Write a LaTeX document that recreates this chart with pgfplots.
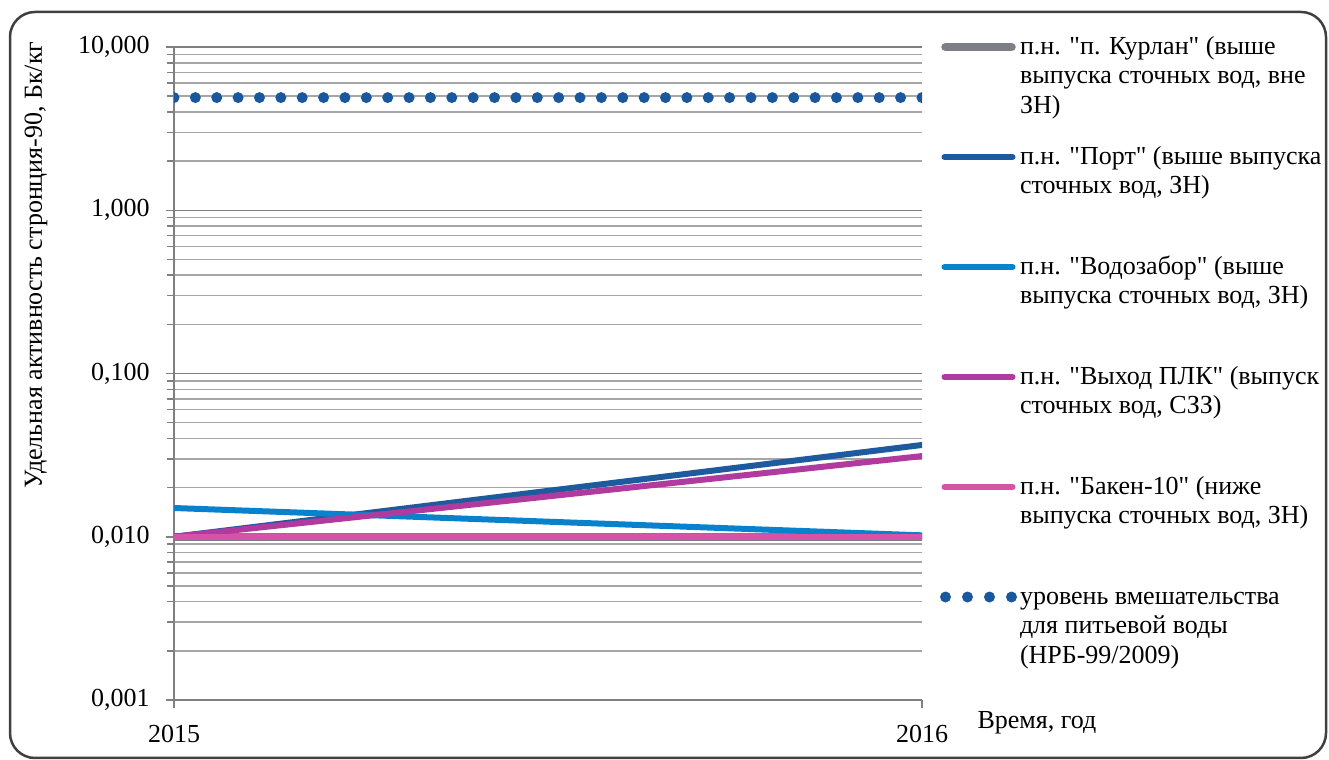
\documentclass[border=0pt]{standalone}
\usepackage{fontspec}
\setmainfont{Liberation Serif}[Ligatures=TeXOff]
\usepackage{pgfplots}
\pgfplotsset{compat=1.18}
\definecolor{ckurlan}{RGB}{124,127,133}
\definecolor{cport}{RGB}{30,90,158}
\definecolor{cvodo}{RGB}{8,130,204}
\definecolor{cplk}{RGB}{176,58,158}
\definecolor{cbaken}{RGB}{214,84,168}
\definecolor{clevel}{RGB}{26,88,158}
\definecolor{gmaj}{RGB}{128,128,128}
\definecolor{gmin}{RGB}{166,166,166}
\definecolor{cframe}{RGB}{64,64,64}
\newcommand{\lfont}{\fontsize{26bp}{29.6bp}\selectfont}
\newcommand{\lentry}[1]{\parbox[t]{330bp}{\raggedright #1}}
\pgfplotsset{
  legline/.style={legend image code/.code={\path[draw=none,fill=none] (0bp,20bp) -- (0bp,-90bp); \draw[##1] (3bp,7bp) -- (71bp,7bp);}},
  leglinegray/.style={legend image code/.code={\path[draw=none,fill=none] (0bp,20bp) -- (0bp,-90bp); \draw[##1] (4bp,7bp) -- (70bp,7bp);}},
  legdots/.style={legend image code/.code={\path[draw=none,fill=none] (0bp,20bp) -- (0bp,-90bp); \draw[##1, dash pattern=on 0bp off 22bp] (4bp,7bp) -- (70bp,7bp);}},
}
\begin{document}
\begin{tikzpicture}
\path[use as bounding box] (0,0) rectangle (1329bp,760bp);
\draw[cframe, line width=2.5bp, rounded corners=25bp] (10bp,2bp) rectangle (1326bp,748bp);
\begin{axis}[
  at={(174bp,60bp)}, anchor=south west,
  scale only axis, width=748bp, height=653bp,
  xmin=2015, xmax=2016, ymode=log, ymin=0.001, ymax=10,
  axis x line*=bottom, axis y line*=left,
  axis line style={draw=gmaj, line width=2bp},
  xtick={2015,2016}, xticklabels={2015,2016},
  ytick={0.001,0.01,0.1,1,10},
  yticklabels={{0,001},{0,010},{0,100},{1,000},{10,000}},
  tick align=outside,
  major tick length=8bp, minor tick length=7bp,
  tick style={draw=gmaj, line width=1.5bp},
  ymajorgrids, yminorgrids,
  major grid style={draw=gmaj, line width=1.5bp},
  minor grid style={draw=gmin, line width=1.5bp},
  ticklabel style={font=\lfont},
  yticklabel style={xshift=-13bp},
  xticklabel style={yshift=-14bp},
  label style={font=\lfont},
  ylabel={Удельная активность стронция-90, Бк/кг},
  ylabel style={at={(axis description cs:-0.1845,1.0138)}, anchor=east},
  xlabel={Время, год},
  xlabel style={at={(axis description cs:1.0695,-0.035)}, anchor=west},
  legend style={at={(1,1)}, anchor=north west, xshift=18bp, yshift=13bp,
    draw=none, fill=none, inner sep=0pt, outer sep=0pt, row sep=0pt, column sep=3bp,
    nodes={inner sep=0pt, outer sep=0pt, anchor=base west, font=\lfont},
    cells={anchor=base west}},
  legend cell align=left,
]
\addplot[ckurlan, line width=8.5bp, line cap=round, leglinegray]
  coordinates {(2015,0.01) (2016,0.01)};
\addlegendentry{\lentry{п.н. "п. Курлан" (выше\\выпуска сточных вод, вне\\ЗН)}}
\addplot[cport, line width=6bp, line cap=round, legline]
  coordinates {(2015,0.01) (2016,0.0365)};
\addlegendentry{\lentry{п.н. "Порт" (выше выпуска\\сточных вод, ЗН)}}
\addplot[cvodo, line width=6bp, line cap=round, legline]
  coordinates {(2015,0.0150) (2016,0.0102)};
\addlegendentry{\lentry{п.н. "Водозабор" (выше\\выпуска сточных вод, ЗН)}}
\addplot[cplk, line width=6bp, line cap=round, legline]
  coordinates {(2015,0.01) (2016,0.0312)};
\addlegendentry{\lentry{п.н. "Выход ПЛК" (выпуск\\сточных вод, СЗЗ)}}
\addplot[cbaken, line width=6bp, line cap=round, legline]
  coordinates {(2015,0.01) (2016,0.01)};
\addlegendentry{\lentry{п.н. "Бакен-10" (ниже\\выпуска сточных вод, ЗН)}}
\addplot[clevel, line width=11bp, line cap=round, dash pattern=on 0bp off 21.37bp, legdots]
  coordinates {(2015,4.9) (2016,4.9)};
\addlegendentry{\lentry{уровень вмешательства\\для питьевой воды\\(НРБ-99/2009)}}
\end{axis}
\end{tikzpicture}
\end{document}
